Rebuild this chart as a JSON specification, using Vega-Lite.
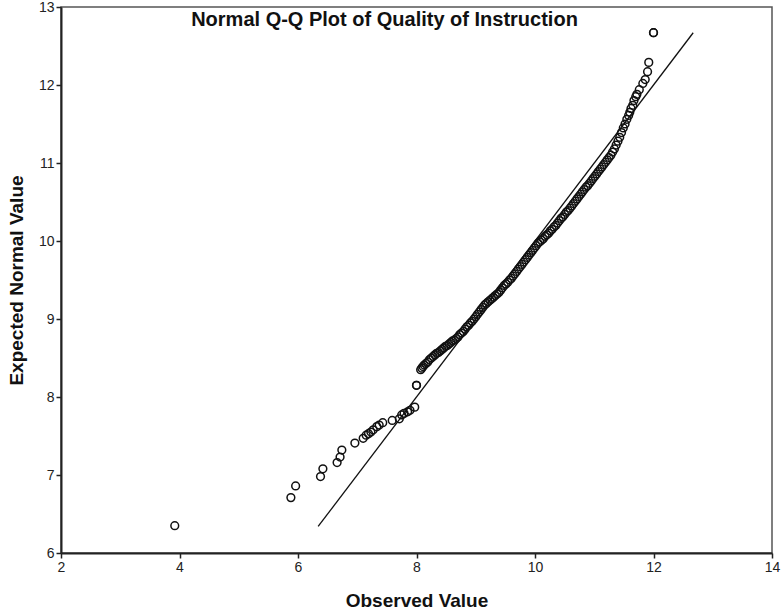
{
  "$schema": "https://vega.github.io/schema/vega-lite/v6.json",
  "width": 711,
  "height": 546,
  "autosize": {"type": "none"},
  "padding": {"left": 61, "top": 7, "right": 12, "bottom": 60},
  "background": "white",
  "config": {
    "view": {"stroke": "#555555", "strokeWidth": 1.5},
    "font": "Liberation Sans",
    "axis": {"grid": false, "domainColor": "#222222", "domainWidth": 2, "tickColor": "#222222", "tickWidth": 1.5, "tickSize": 5, "labelFont": "Liberation Sans", "labelFontSize": 14, "labelColor": "#222222", "labelPadding": 2, "labelFlush": false, "format": "d", "titleFont": "Liberation Sans", "titleFontSize": 19, "titleFontWeight": "bold", "titleColor": "#111111"}
  },
  "title": {"text": "Normal Q-Q Plot of Quality of Instruction", "font": "Liberation Sans", "fontSize": 20, "fontWeight": "bold", "color": "#111111", "anchor": "middle", "dx": -32, "offset": -30},
  "datasets": {
    "pts": [
      {"obs": 3.92, "exp": 6.35}, {"obs": 5.88, "exp": 6.71}, {"obs": 5.96, "exp": 6.86}, {"obs": 6.38, "exp": 6.98}, {"obs": 6.42, "exp": 7.08},
      {"obs": 6.66, "exp": 7.16}, {"obs": 6.71, "exp": 7.23}, {"obs": 6.74, "exp": 7.32}, {"obs": 6.96, "exp": 7.41}, {"obs": 7.10, "exp": 7.47},
      {"obs": 7.15, "exp": 7.51}, {"obs": 7.19, "exp": 7.53}, {"obs": 7.23, "exp": 7.55}, {"obs": 7.27, "exp": 7.58}, {"obs": 7.33, "exp": 7.62},
      {"obs": 7.37, "exp": 7.64}, {"obs": 7.43, "exp": 7.67}, {"obs": 7.59, "exp": 7.70}, {"obs": 7.71, "exp": 7.72}, {"obs": 7.75, "exp": 7.77},
      {"obs": 7.79, "exp": 7.79}, {"obs": 7.85, "exp": 7.81}, {"obs": 7.89, "exp": 7.83}, {"obs": 7.97, "exp": 7.87}, {"obs": 8.00, "exp": 8.15},
      {"obs": 8.00, "exp": 8.15},
      {"obs": 8.07, "exp": 8.35}, {"obs": 8.09, "exp": 8.37}, {"obs": 8.11, "exp": 8.39}, {"obs": 8.13, "exp": 8.41}, {"obs": 8.16, "exp": 8.43},
      {"obs": 8.19, "exp": 8.45}, {"obs": 8.22, "exp": 8.48}, {"obs": 8.25, "exp": 8.50}, {"obs": 8.28, "exp": 8.52}, {"obs": 8.31, "exp": 8.54},
      {"obs": 8.34, "exp": 8.56}, {"obs": 8.37, "exp": 8.57}, {"obs": 8.40, "exp": 8.59}, {"obs": 8.43, "exp": 8.61}, {"obs": 8.46, "exp": 8.63},
      {"obs": 8.49, "exp": 8.65}, {"obs": 8.52, "exp": 8.66}, {"obs": 8.55, "exp": 8.68}, {"obs": 8.58, "exp": 8.70}, {"obs": 8.61, "exp": 8.72},
      {"obs": 8.64, "exp": 8.73}, {"obs": 8.67, "exp": 8.75}, {"obs": 8.70, "exp": 8.77}, {"obs": 8.73, "exp": 8.80}, {"obs": 8.76, "exp": 8.82},
      {"obs": 8.79, "exp": 8.84}, {"obs": 8.82, "exp": 8.87}, {"obs": 8.85, "exp": 8.90}, {"obs": 8.88, "exp": 8.92}, {"obs": 8.91, "exp": 8.95},
      {"obs": 8.94, "exp": 8.97}, {"obs": 8.97, "exp": 9.00}, {"obs": 9.00, "exp": 9.03}, {"obs": 9.03, "exp": 9.06}, {"obs": 9.06, "exp": 9.09},
      {"obs": 9.09, "exp": 9.12}, {"obs": 9.12, "exp": 9.15}, {"obs": 9.15, "exp": 9.18}, {"obs": 9.18, "exp": 9.20}, {"obs": 9.21, "exp": 9.22},
      {"obs": 9.24, "exp": 9.24}, {"obs": 9.27, "exp": 9.26}, {"obs": 9.30, "exp": 9.28}, {"obs": 9.33, "exp": 9.30}, {"obs": 9.36, "exp": 9.32},
      {"obs": 9.39, "exp": 9.34}, {"obs": 9.42, "exp": 9.37}, {"obs": 9.45, "exp": 9.40}, {"obs": 9.48, "exp": 9.43}, {"obs": 9.51, "exp": 9.45},
      {"obs": 9.54, "exp": 9.47}, {"obs": 9.57, "exp": 9.50}, {"obs": 9.60, "exp": 9.52}, {"obs": 9.63, "exp": 9.55}, {"obs": 9.66, "exp": 9.58},
      {"obs": 9.69, "exp": 9.61}, {"obs": 9.72, "exp": 9.64}, {"obs": 9.75, "exp": 9.67}, {"obs": 9.78, "exp": 9.70}, {"obs": 9.81, "exp": 9.73},
      {"obs": 9.84, "exp": 9.76}, {"obs": 9.87, "exp": 9.79}, {"obs": 9.90, "exp": 9.82}, {"obs": 9.93, "exp": 9.85}, {"obs": 9.96, "exp": 9.88},
      {"obs": 9.99, "exp": 9.91}, {"obs": 10.02, "exp": 9.94}, {"obs": 10.05, "exp": 9.97}, {"obs": 10.08, "exp": 9.99}, {"obs": 10.11, "exp": 10.01},
      {"obs": 10.14, "exp": 10.03}, {"obs": 10.17, "exp": 10.06}, {"obs": 10.20, "exp": 10.08}, {"obs": 10.23, "exp": 10.10}, {"obs": 10.26, "exp": 10.13},
      {"obs": 10.29, "exp": 10.15}, {"obs": 10.32, "exp": 10.18}, {"obs": 10.35, "exp": 10.20}, {"obs": 10.38, "exp": 10.23}, {"obs": 10.41, "exp": 10.26},
      {"obs": 10.44, "exp": 10.29}, {"obs": 10.47, "exp": 10.31}, {"obs": 10.50, "exp": 10.34}, {"obs": 10.53, "exp": 10.37}, {"obs": 10.56, "exp": 10.39},
      {"obs": 10.59, "exp": 10.42}, {"obs": 10.62, "exp": 10.45}, {"obs": 10.65, "exp": 10.48}, {"obs": 10.68, "exp": 10.51}, {"obs": 10.71, "exp": 10.54},
      {"obs": 10.74, "exp": 10.57}, {"obs": 10.77, "exp": 10.60}, {"obs": 10.80, "exp": 10.63}, {"obs": 10.83, "exp": 10.66}, {"obs": 10.86, "exp": 10.69},
      {"obs": 10.89, "exp": 10.71}, {"obs": 10.92, "exp": 10.74}, {"obs": 10.95, "exp": 10.77}, {"obs": 10.98, "exp": 10.80}, {"obs": 11.01, "exp": 10.83},
      {"obs": 11.04, "exp": 10.86}, {"obs": 11.07, "exp": 10.89}, {"obs": 11.10, "exp": 10.92}, {"obs": 11.13, "exp": 10.95}, {"obs": 11.16, "exp": 10.98},
      {"obs": 11.19, "exp": 11.01}, {"obs": 11.22, "exp": 11.04}, {"obs": 11.25, "exp": 11.07}, {"obs": 11.28, "exp": 11.10}, {"obs": 11.31, "exp": 11.14},
      {"obs": 11.34, "exp": 11.18}, {"obs": 11.37, "exp": 11.23}, {"obs": 11.40, "exp": 11.28}, {"obs": 11.43, "exp": 11.33}, {"obs": 11.46, "exp": 11.39},
      {"obs": 11.49, "exp": 11.45}, {"obs": 11.52, "exp": 11.50}, {"obs": 11.55, "exp": 11.56}, {"obs": 11.58, "exp": 11.61}, {"obs": 11.60, "exp": 11.65},
      {"obs": 11.62, "exp": 11.70}, {"obs": 11.65, "exp": 11.74}, {"obs": 11.67, "exp": 11.80}, {"obs": 11.70, "exp": 11.85}, {"obs": 11.72, "exp": 11.88},
      {"obs": 11.76, "exp": 11.94}, {"obs": 11.82, "exp": 12.02}, {"obs": 11.86, "exp": 12.07}, {"obs": 11.90, "exp": 12.17}, {"obs": 11.92, "exp": 12.29},
      {"obs": 12.00, "exp": 12.67}, {"obs": 12.00, "exp": 12.67}
    ],
    "ref": [
      {"x1": 6.34, "y1": 6.34, "x2": 12.67, "y2": 12.67}
    ]
  },
  "layer": [
    {
      "data": {"name": "ref"},
      "mark": {"type": "rule", "color": "#111111", "strokeWidth": 1.3},
      "encoding": {
        "x": {"field": "x1", "type": "quantitative", "scale": {"domain": [2, 14], "nice": false, "zero": false}, "axis": {"title": "Observed Value", "values": [2, 4, 6, 8, 10, 12, 14], "titlePadding": 17}},
        "y": {"field": "y1", "type": "quantitative", "scale": {"domain": [6, 13], "nice": false, "zero": false}, "axis": {"title": "Expected Normal Value", "values": [6, 7, 8, 9, 10, 11, 12, 13], "titlePadding": 12}},
        "x2": {"field": "x2"},
        "y2": {"field": "y2"}
      }
    },
    {
      "data": {"name": "pts"},
      "mark": {"type": "point", "shape": "circle", "filled": false, "stroke": "#111111", "strokeWidth": 1.5, "size": 60, "opacity": 1},
      "encoding": {
        "x": {"field": "obs", "type": "quantitative"},
        "y": {"field": "exp", "type": "quantitative"}
      }
    }
  ]
}
